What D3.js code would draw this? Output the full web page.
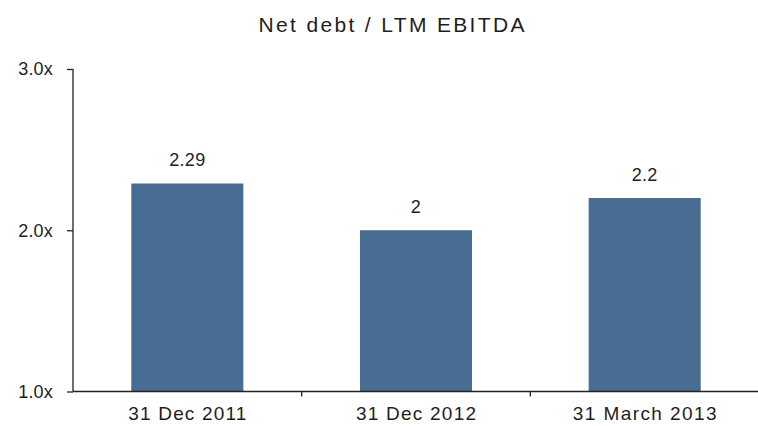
<!DOCTYPE html>
<html>
<head>
<meta charset="utf-8">
<script src="https://cdn.jsdelivr.net/npm/d3@7"></script>
<style>
  html, body { margin: 0; padding: 0; background: #ffffff; }
  svg { display: block; }
  text { font-family: "Liberation Sans", Arial, sans-serif; fill: #1e1e1e; }
</style>
</head>
<body>
<script>
// Net debt to LTM EBITDA ratio at each reporting date
const chartTitle = "Net debt / LTM EBITDA";
const categories = ["31 Dec 2011", "31 Dec 2012", "31 March 2013"];
const values = [2.29, 2, 2.2];
const valueLabels = ["2.29", "2", "2.2"];
const yTicks = [1.0, 2.0, 3.0];
const categoryLabelWidths = [118, 120, 144];

const width = 758, height = 426;
const svg = d3.select("body").append("svg")
  .attr("width", width).attr("height", height);

const x = d3.scaleBand()
  .domain(categories)
  .range([73, 759])
  .paddingInner(0.51)
  .paddingOuter(0.255);

const y = d3.scaleLinear()
  .domain([1, 3])
  .range([391.5, 69]);

// Title
svg.append("text")
  .attr("x", 391.5)
  .attr("y", 32)
  .attr("text-anchor", "middle")
  .attr("font-size", 21)
  .attr("textLength", 266)
  .attr("lengthAdjust", "spacing")
  .text(chartTitle);

// Bars
svg.append("g").selectAll("rect")
  .data(values)
  .join("rect")
  .attr("x", (d, i) => x(categories[i]))
  .attr("width", x.bandwidth())
  .attr("y", d => y(d))
  .attr("height", d => y(1) - y(d))
  .attr("fill", "#486d92");

// Value labels above bars
svg.append("g").selectAll("text")
  .data(values)
  .join("text")
  .attr("x", (d, i) => x(categories[i]) + x.bandwidth() / 2)
  .attr("y", d => y(d) - 17)
  .attr("text-anchor", "middle")
  .attr("font-size", 18)
  .attr("letter-spacing", 0.3)
  .text((d, i) => valueLabels[i]);

// Y axis
const yAxis = svg.append("g")
  .attr("transform", "translate(73,0)")
  .call(d3.axisLeft(y)
    .tickValues(yTicks)
    .tickSize(6)
    .tickPadding(14)
    .tickFormat(d => d3.format(".1f")(d) + "x"));
yAxis.select(".domain").attr("stroke", "#222").attr("stroke-width", 1.3)
  .attr("d", `M-0,${y(3)}V${y(1)}`);
yAxis.selectAll(".tick line").attr("stroke", "#222").attr("stroke-width", 1.3);
yAxis.selectAll(".tick text")
  .attr("font-size", 18)
  .attr("letter-spacing", 0.2)
  .attr("fill", "#1e1e1e")
  .attr("font-family", "Liberation Sans, Arial, sans-serif");

// X axis baseline
svg.append("line")
  .attr("x1", 73).attr("x2", 759)
  .attr("y1", y(1)).attr("y2", y(1))
  .attr("stroke", "#222").attr("stroke-width", 1.3);

// Tick marks between categories
const boundaries = categories.slice(1).map(c => x(c) - x.step() * x.paddingInner() / 2);
svg.append("g").selectAll("line")
  .data(boundaries)
  .join("line")
  .attr("x1", d => d).attr("x2", d => d)
  .attr("y1", y(1)).attr("y2", y(1) + 5)
  .attr("stroke", "#222").attr("stroke-width", 1.3);

// Category labels
svg.append("g").selectAll("text")
  .data(categories)
  .join("text")
  .attr("x", d => x(d) + x.bandwidth() / 2)
  .attr("y", 420)
  .attr("text-anchor", "middle")
  .attr("font-size", 19)
  .attr("textLength", (d, i) => categoryLabelWidths[i])
  .attr("lengthAdjust", "spacing")
  .text(d => d);
</script>
</body>
</html>
